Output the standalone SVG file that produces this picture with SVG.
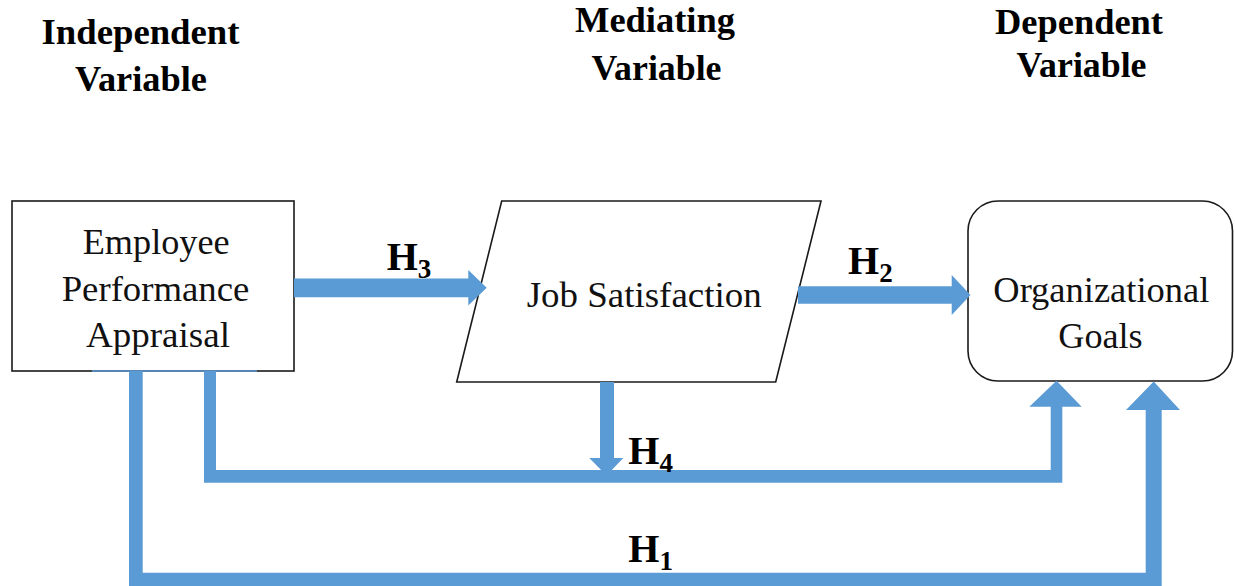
<svg xmlns="http://www.w3.org/2000/svg" width="1235" height="586" viewBox="0 0 1235 586">
<style>
.title{font-weight:bold;font-size:35px;fill:#000}
.lbl{font-size:36px;fill:#111}
.h{font-weight:bold;font-size:40px;fill:#000}
.sub{font-size:27px}
.node{fill:#fff;stroke:#1a1a1a;stroke-width:1.6}
.conn{fill:#5b9bd5;stroke:none}
</style>
<rect width="1235" height="586" fill="#fff"/>
<g id="titles" font-family="Liberation Serif">
<text class="title" x="41.5" y="44" textLength="198" lengthAdjust="spacingAndGlyphs">Independent</text>
<text class="title" x="75" y="90.5" textLength="132" lengthAdjust="spacingAndGlyphs">Variable</text>
<text class="title" x="575" y="32" textLength="160" lengthAdjust="spacingAndGlyphs">Mediating</text>
<text class="title" x="591.5" y="80" textLength="130" lengthAdjust="spacingAndGlyphs">Variable</text>
<text class="title" x="995" y="34" textLength="168" lengthAdjust="spacingAndGlyphs">Dependent</text>
<text class="title" x="1016.5" y="76.5" textLength="130" lengthAdjust="spacingAndGlyphs">Variable</text>
</g>
<g id="node-employee" font-family="Liberation Serif">
<rect class="node" x="12" y="201" width="282" height="170"/>
<text class="lbl" x="82.7" y="254" textLength="147" lengthAdjust="spacingAndGlyphs">Employee</text>
<text class="lbl" x="61.7" y="300.5" textLength="187.6" lengthAdjust="spacingAndGlyphs">Performance</text>
<text class="lbl" x="86" y="347" textLength="144" lengthAdjust="spacingAndGlyphs">Appraisal</text>
</g>
<g id="node-job" font-family="Liberation Serif">
<polygon class="node" points="501.7,201 821,201 775.7,382 456.7,382"/>
<text class="lbl" x="526.7" y="307" textLength="235" lengthAdjust="spacingAndGlyphs">Job Satisfaction</text>
</g>
<g id="node-goals" font-family="Liberation Serif">
<rect class="node" x="968" y="201" width="264.5" height="180" rx="30" ry="30"/>
<text class="lbl" x="993.3" y="302" textLength="216" lengthAdjust="spacingAndGlyphs">Organizational</text>
<text class="lbl" x="1058.3" y="348.3" textLength="84.4" lengthAdjust="spacingAndGlyphs">Goals</text>
</g>
<g id="connectors">
<line x1="92" y1="371" x2="257" y2="371" stroke="#5b9bd5" stroke-width="1.6"/>
<path class="conn" d="M294,278.5 H468.3 V270 L486.7,287.8 L468.3,305.5 V297.2 H294 Z"/>
<path class="conn" d="M798,286.3 H951.7 V275 L970.5,295 L951.7,315 V303.7 H798 Z"/>
<path class="conn" d="M600,382 H614 V458 H623.3 L606.5,475.5 L589.3,458 H600 Z"/>
<path class="conn" d="M204,371 V482.7 H1062.3 V406.7 H1081.7 L1056.5,380.7 L1029.3,406.7 H1050.7 V470 H216 V371 Z"/>
<path class="conn" d="M129,371 V588 H1161.7 V410 H1180 L1153.7,381.5 L1126,410 H1145.7 V572.7 H142.7 V371 Z"/>
</g>
<g id="labels" font-family="Liberation Serif">
<text class="h" x="386.7" y="270">H<tspan class="sub" dy="8">3</tspan></text>
<text class="h" x="848" y="274">H<tspan class="sub" dy="8">2</tspan></text>
<text class="h" x="628.3" y="464">H<tspan class="sub" dy="8">4</tspan></text>
<text class="h" x="628.3" y="562">H<tspan class="sub" dy="8">1</tspan></text>
</g>
</svg>
